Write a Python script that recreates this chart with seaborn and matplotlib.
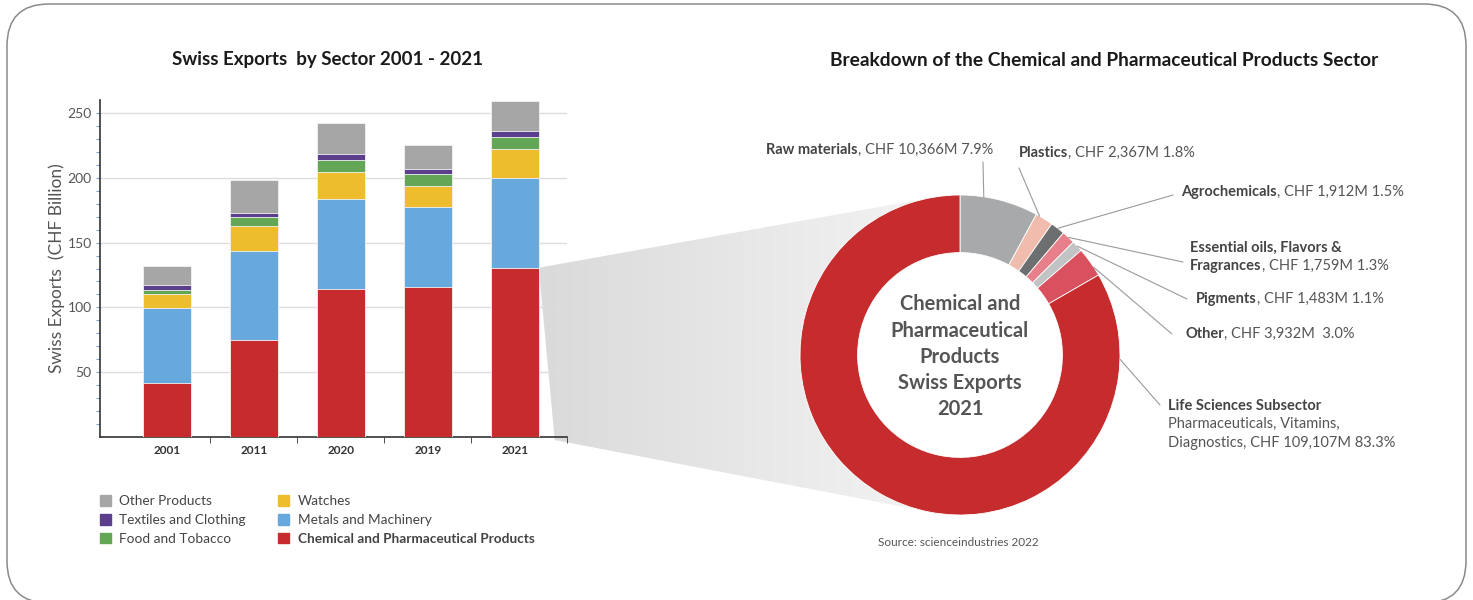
import numpy as np
import matplotlib
matplotlib.use("Agg")
import matplotlib.pyplot as plt
import seaborn as sns
from matplotlib.patches import Patch, Polygon, FancyBboxPatch, Circle
from matplotlib.colors import LinearSegmentedColormap

# Bar chart data (CHF billion), stacked bottom -> top
years = ["2001", "2011", "2020", "2019", "2021"]
chemical = [41.6, 74.9, 114.2, 116.0, 130.6]
metals = [57.7, 68.3, 69.1, 61.4, 69.1]
watches = [10.8, 19.3, 21.5, 16.4, 22.3]
food = [3.3, 7.4, 8.8, 9.2, 9.3]
textiles = [4.2, 3.1, 5.1, 3.9, 4.8]
other = [14.3, 25.2, 23.3, 18.7, 23.4]

sector_names = ["Chemical and Pharmaceutical Products", "Metals and Machinery", "Watches",
                "Food and Tobacco", "Textiles and Clothing", "Other Products"]
sector_colors = ["#c62c2e", "#67a9dc", "#eebd2e", "#63a656", "#5b3e8c", "#a6a6a6"]

# Donut data (CHF million), clockwise from top
sub_names = ["Raw materials", "Plastics", "Agrochemicals", "Essential oils", "Pigments", "Other",
             "Life Sciences"]
sub_values = [10366, 2367, 1912, 1759, 1483, 3932, 109107]
sub_colors = ["#a8a9ab", "#efbcae", "#6d6e70", "#e8808c", "#c2c3c5", "#d9505e", "#c62c2e"]

W, H = 1473, 600
sns.set_style("white")
plt.rcParams["font.family"] = ["Lato", "DejaVu Sans"]
TXT = "#555555"

fig = plt.figure(figsize=(W / 100, H / 100), dpi=100)

# overlay axes in pixel coordinates (display), used for frame and gradient wedge
bg = fig.add_axes([0, 0, 1, 1], zorder=-1)
bg.set_xlim(0, W)
bg.set_ylim(0, H)
bg.axis("off")
bg.add_patch(FancyBboxPatch((7, -3), W - 14, H - 1, boxstyle="round,pad=0,rounding_size=42",
                            facecolor="white", edgecolor="#8a8a8a", linewidth=1.1))

# ---- stacked bars ----
ax = fig.add_axes([100 / W, (H - 437) / H, 467 / W, 337 / H], zorder=2)
ax.set_facecolor("none")
series = [chemical, metals, watches, food, textiles, other]
cum = np.cumsum(np.array(series), axis=0)
for i in range(len(series) - 1, -1, -1):
    sns.barplot(x=years, y=cum[i], order=years, color=sector_colors[i], saturation=1,
                width=0.55, edgecolor="#f2f2f2", linewidth=0.6, ax=ax, zorder=3)
ax.set_xlim(-0.77, 4.6)
ax.set_ylim(0, 260)
ax.set_yticks([50, 100, 150, 200, 250])
ax.set_yticks(np.arange(10, 260, 10), minor=True)
ax.yaxis.grid(True, color="#dddddd", linewidth=1, zorder=0)
ax.set_axisbelow(True)
ax.tick_params(axis="y", which="both", left=True, colors="#7f9fd0", length=3, width=0.8,
               labelcolor=TXT, labelsize=10, pad=3)
ax.set_xticks(range(len(years)))
ax.set_xticklabels(years, fontweight="bold", fontsize=8.5, color="#333333")
ax.set_xticks([0.5, 1.5, 2.5, 3.5, 4.6], minor=True)
ax.tick_params(axis="x", which="major", length=0, pad=6)
ax.tick_params(axis="x", which="minor", bottom=True, length=4, color="#333333")
for s in ["top", "right"]:
    ax.spines[s].set_visible(False)
for s in ["left", "bottom"]:
    ax.spines[s].set_color("#333333")
    ax.spines[s].set_linewidth(1.2)
ax.set_xlabel("")
ax.set_ylabel("Swiss Exports  (CHF Billion)", fontsize=12.5, color=TXT, labelpad=2)

handles = [Patch(color=sector_colors[i], label=sector_names[i]) for i in [5, 4, 3, 2, 1, 0]]
leg = fig.legend(handles=handles, ncol=2, loc="upper left", bbox_to_anchor=(88 / W, 1 - 483 / H),
                 frameon=False, fontsize=9.8, handlelength=0.8, handleheight=0.8,
                 handletextpad=0.6, labelspacing=0.5, columnspacing=2.4)
for t in leg.get_texts():
    t.set_color("#444444")
leg.get_texts()[-1].set_fontweight("bold")

# ---- donut ----
CX, CY, R = 960, 355, 160
S = 220
pax = fig.add_axes([(CX - S) / W, (H - CY - S) / H, 2 * S / W, 2 * S / H], zorder=3)
pax.set_facecolor("none")
wedges, _ = pax.pie(sub_values, colors=sub_colors, startangle=90, counterclock=False, radius=1,
                    wedgeprops=dict(width=0.36, edgecolor="white", linewidth=0.6))
pax.add_patch(Circle((0, 0), 0.64, facecolor="white", edgecolor="none", zorder=0.5))
L = S / R
pax.set_xlim(-L, L)
pax.set_ylim(-L, L)
pax.set_aspect("equal")
pax.axis("off")


def px(x, y):
    """reference pixel -> donut data coords"""
    return (x - CX) / R, (CY - y) / R


pax.text(0, -0.01, "Chemical and\nPharmaceutical\nProducts\nSwiss Exports\n2021", ha="center",
         va="center", fontsize=14.5, fontweight="bold", color=TXT, linespacing=1.38)

# gradient wedge linking the 2021 bar to the donut
p1 = ax.transData.transform((4 + 0.275, chemical[-1]))
p2 = ax.transData.transform((4 + 0.275, 0))
a1, a2 = np.radians(99), np.radians(256)
q1 = pax.transData.transform((np.cos(a1), np.sin(a1)))
q2 = pax.transData.transform((np.cos(a2), np.sin(a2)))
poly = Polygon([p1, q1, q2, (p2[0] + 16, p2[1] - 3)], closed=True, facecolor="none",
               edgecolor="none")
bg.add_patch(poly)
cmap = LinearSegmentedColormap.from_list("g", ["#dadada", "#f6f6f6"])
img = bg.imshow(np.linspace(0, 1, 256)[None, :], cmap=cmap, aspect="auto",
                extent=(p1[0], q1[0] + 40, q2[1], q1[1]), zorder=1)
img.set_clip_path(poly)

FS = 10.5
LINE = dict(color="#9a9a9a", lw=0.8, clip_on=False)


def leader(i, end, frac=0.5):
    # frac: where along the wedge (from its clockwise end) the line attaches
    w = wedges[i]
    ang = np.radians(w.theta2 - frac * (w.theta2 - w.theta1))
    x0, y0 = np.cos(ang), np.sin(ang)
    x1, y1 = px(*end)
    pax.plot([x0, x1], [y0, y1], **LINE)


def label(x, y, bold, normal):
    t = pax.text(*px(x, y), bold, fontsize=FS, fontweight="bold", color="#444444", va="center",
                 ha="left", clip_on=False)
    pax.annotate(normal, xy=(1, 0), xycoords=t, va="bottom", ha="left", fontsize=FS,
                 color=TXT, annotation_clip=False)
    return t


label(766, 150, "Raw materials", ", CHF 10,366M 7.9%")
leader(0, (983, 162), 0.3)
label(1019, 153, "Plastics", ", CHF 2,367M 1.8%")
leader(1, (1019, 168), 0.2)
label(1181, 192, "Agrochemicals", ", CHF 1,912M 1.5%")
leader(2, (1173, 195))
pax.text(*px(1190, 248), "Essential oils, Flavors &", fontsize=FS, fontweight="bold",
         color="#444444", va="center", ha="left", clip_on=False)
label(1190, 266, "Fragrances", ", CHF 1,759M 1.3%")
leader(3, (1183, 262))
label(1196, 299, "Pigments", ", CHF 1,483M 1.1%")
leader(4, (1187, 299))
label(1185, 334, "Other", ", CHF 3,932M  3.0%")
leader(5, (1172, 334), 0.7)
pax.text(*px(1168, 406), "Life Sciences Subsector", fontsize=FS, fontweight="bold",
         color="#444444", va="center", ha="left", clip_on=False)
pax.text(*px(1168, 417), "Pharmaceuticals, Vitamins,\nDiagnostics, CHF 109,107M 83.3%",
         fontsize=FS, color=TXT, va="top", ha="left", linespacing=1.5, clip_on=False)
leader(6, (1160, 405), 0.105)

# titles and source
fig.text(328 / W, 1 - 60 / H, "Swiss Exports  by Sector 2001 - 2021", ha="center", va="center",
         fontsize=13.5, fontweight="bold", color="#1a1a1a")
fig.text(1104 / W, 1 - 60 / H, "Breakdown of the Chemical and Pharmaceutical Products Sector",
         ha="center", va="center", fontsize=13.8, fontweight="bold", color="#1a1a1a")
fig.text(958 / W, 1 - 543 / H, "Source: scienceindustries 2022", ha="center", va="center",
         fontsize=8.5, color=TXT)

fig.savefig("out.png", dpi=100)
